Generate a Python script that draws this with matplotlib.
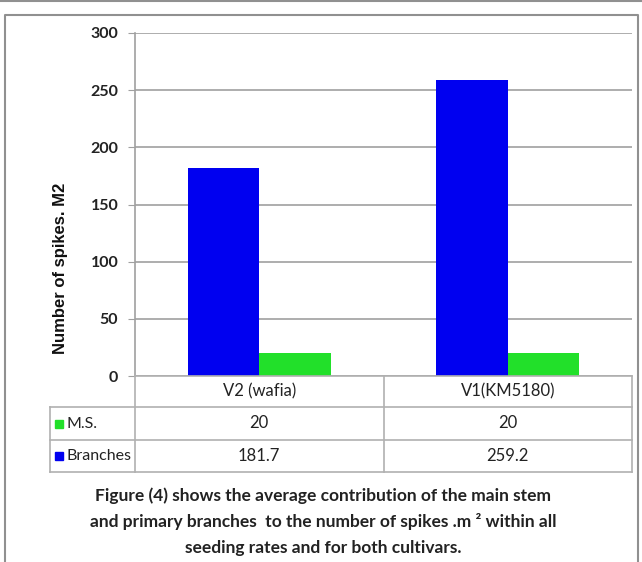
import numpy as np
import matplotlib.pyplot as plt
from matplotlib.lines import Line2D
from matplotlib.patches import Rectangle

cultivars = ['V2 (wafia)', 'V1(KM5180)']
series_names = ['M.S.', 'Branches']
main_stem = [20, 20]
branches = [181.7, 259.2]
yticks = [0, 50, 100, 150, 200, 250, 300]

blue = '#0000f0'
green = '#22e02a'
grid_c = '#a0a0a0'

W, H = 642, 562
plt.rcParams['font.family'] = ['Lato', 'DejaVu Sans']
fig = plt.figure(figsize=(W / 100, H / 100), dpi=100)


def fx(px):
    return px / W


def fy(py):
    return 1 - py / H


# plot area in pixel coordinates
x0, x1, y_top, y_bot = 135, 632, 33, 376
ax = fig.add_axes([fx(x0), fy(y_bot), fx(x1) - fx(x0), fy(y_top) - fy(y_bot)])

x = np.arange(len(cultivars))
bw = 0.287
ax.bar(x - bw / 2, branches, bw, color=blue, zorder=3)
ax.bar(x + bw / 2, main_stem, bw, color=green, zorder=3)

ax.set_xlim(-0.5, len(cultivars) - 0.5)
ax.set_ylim(0, 300)
ax.set_yticks(yticks)
ax.set_yticklabels([str(t) for t in yticks], fontsize=11.5, fontweight='bold', color='#222222')
ax.set_xticks([])
ax.yaxis.grid(True, color=grid_c, lw=1.2)
ax.tick_params(axis='y', length=5, color=grid_c, pad=7)
for s in ['top', 'right', 'bottom']:
    ax.spines[s].set_visible(False)
ax.spines['left'].set_color(grid_c)
ax.spines['left'].set_linewidth(1.2)

fig.text(fx(60), fy(268), 'Number of spikes. M2', rotation=90, ha='center', va='center',
         fontsize=12, fontweight='bold', family=['Liberation Sans', 'DejaVu Sans'], color='#111111')

# data table under the axis
tc = '#b0b0b0'
col_edges = [x0 + (x1 - x0) * i / len(cultivars) for i in range(len(cultivars) + 1)]
row_edges = [376, 407, 440, 472]
tab_left = 50


def hline(xa, xb, yp):
    fig.add_artist(Line2D([fx(xa), fx(xb)], [fy(yp), fy(yp)], color=tc, lw=1.2))


def vline(xp, ya, yb):
    fig.add_artist(Line2D([fx(xp), fx(xp)], [fy(ya), fy(yb)], color=tc, lw=1.2))


hline(x0, x1, row_edges[0])
for r in row_edges[1:]:
    hline(tab_left, x1, r)
for c in col_edges:
    vline(c, row_edges[0], row_edges[-1])
vline(tab_left, row_edges[1], row_edges[-1])

for i, name in enumerate(cultivars):
    cx = (col_edges[i] + col_edges[i + 1]) / 2
    fig.text(fx(cx), fy((row_edges[0] + row_edges[1]) / 2), name, ha='center', va='center',
             fontsize=12, color='#222222')

rows = [(series_names[0], main_stem, green), (series_names[1], branches, blue)]
for j, (name, vals, col) in enumerate(rows):
    yc = (row_edges[j + 1] + row_edges[j + 2]) / 2
    fig.add_artist(Rectangle((fx(55), fy(yc + 4)), fx(8), 8 / H, color=col))
    fig.text(fx(66), fy(yc), name, ha='left', va='center', fontsize=11.5, color='#222222')
    for i, v in enumerate(vals):
        cx = (col_edges[i] + col_edges[i + 1]) / 2
        fig.text(fx(cx), fy(yc), f'{v:g}', ha='center', va='center', fontsize=12, color='#222222')

# caption
cap = ['Figure (4) shows the average contribution of the main stem',
       'and primary branches  to the number of spikes .m ² within all',
       'seeding rates and for both cultivars.']
for k, line in enumerate(cap):
    fig.text(fx(323), fy(496 + 26 * k), line, ha='center', va='center', fontsize=12.5,
             fontweight='bold', color='#222222')

# outer frame
fig.add_artist(Line2D([0, 1], [fy(1), fy(1)], color='#909090', lw=1.5))
fig.add_artist(Line2D([fx(5), fx(5), fx(638), fx(638)], [0, fy(15), fy(15), 0], color='#909090', lw=1.5))

fig.savefig('out.png', dpi=100)
